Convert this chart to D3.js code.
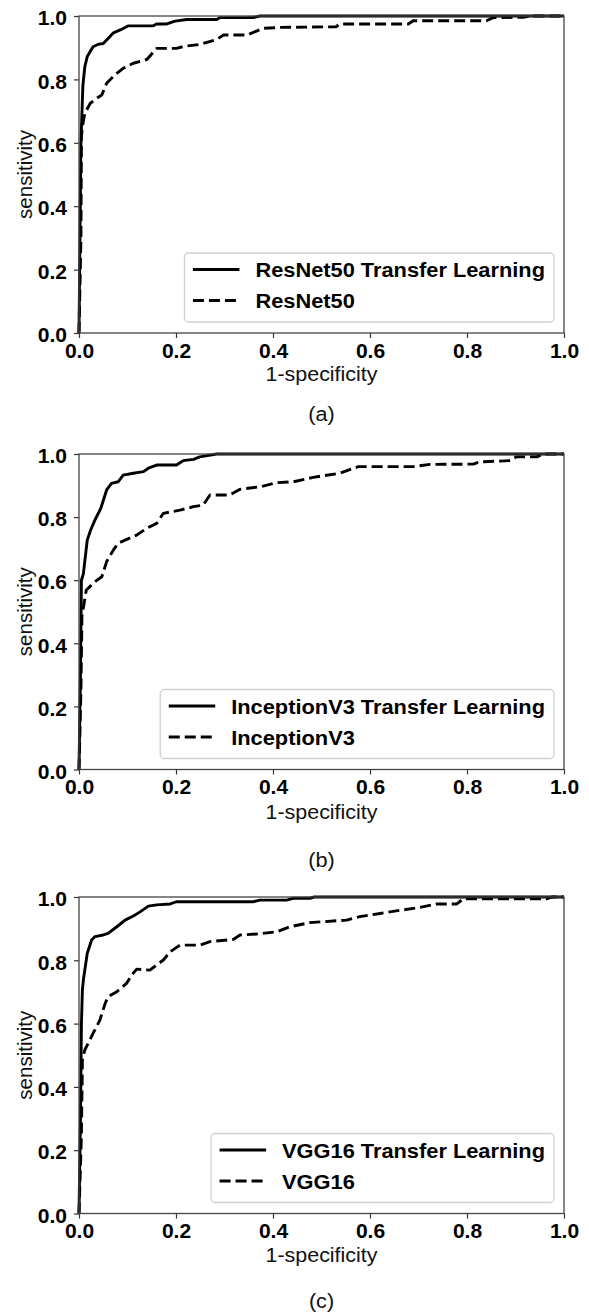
<!DOCTYPE html>
<html>
<head>
<meta charset="utf-8">
<script src="https://cdn.jsdelivr.net/npm/d3@7/dist/d3.min.js"></script>
<style>
  html, body { margin: 0; padding: 0; background: #fff; }
  svg { display: block; font-family: "Liberation Sans", Arial, Helvetica, sans-serif; }
</style>
</head>
<body>
<svg id="chart" width="589" height="1315"></svg>
<script>
// ---------- data ----------
const xTicks = [0.0, 0.2, 0.4, 0.6, 0.8, 1.0];
const yTicks = [0.0, 0.2, 0.4, 0.6, 0.8, 1.0];
const xLabel = "1-specificity";
const yLabel = "sensitivity";
const panelLabels = ["(a)", "(b)", "(c)"];
const legendNames = [
  ["ResNet50 Transfer Learning", "ResNet50"],
  ["InceptionV3 Transfer Learning", "InceptionV3"],
  ["VGG16 Transfer Learning", "VGG16"]
];

const resnetTL_fpr = [0,0.002,0.004,0.008,0.012,0.017,0.029,0.04,0.05,0.058,0.071,0.085,0.102,0.153,0.16,0.181,0.198,0.222,0.284,0.291,0.359,0.373,1.0];
const resnetTL_tpr = [0,0.3,0.6,0.78,0.84,0.872,0.903,0.911,0.913,0.926,0.947,0.956,0.969,0.969,0.975,0.975,0.984,0.989,0.989,0.995,0.995,1.0,1.0];

const resnet_fpr = [0,0.004,0.005,0.007,0.012,0.023,0.036,0.047,0.057,0.074,0.091,0.112,0.14,0.16,0.201,0.219,0.249,0.284,0.298,0.346,0.38,0.414,0.53,0.538,0.679,0.689,0.84,0.854,0.916,0.93,1.0];
const resnet_tpr = [0,0.3,0.62,0.651,0.693,0.724,0.74,0.751,0.788,0.814,0.835,0.851,0.863,0.898,0.898,0.905,0.91,0.926,0.94,0.94,0.961,0.964,0.966,0.975,0.975,0.985,0.985,0.995,0.996,1.0,1.0];

const inceptionTL_fpr = [0,0.003,0.005,0.009,0.017,0.024,0.033,0.045,0.057,0.067,0.081,0.091,0.112,0.133,0.143,0.16,0.201,0.215,0.236,0.249,0.284,1.0];
const inceptionTL_tpr = [0,0.3,0.6,0.62,0.727,0.759,0.791,0.828,0.886,0.907,0.912,0.933,0.939,0.944,0.955,0.965,0.965,0.979,0.983,0.991,1.0,1.0];

const inception_fpr = [0,0.004,0.006,0.015,0.033,0.047,0.057,0.071,0.081,0.095,0.119,0.14,0.16,0.174,0.208,0.236,0.256,0.27,0.311,0.332,0.373,0.408,0.442,0.483,0.538,0.576,0.689,0.724,0.813,0.827,0.889,0.902,0.944,0.957,1.0];
const inception_tpr = [0,0.25,0.484,0.569,0.595,0.611,0.659,0.696,0.717,0.727,0.743,0.765,0.78,0.812,0.822,0.833,0.838,0.87,0.87,0.888,0.896,0.909,0.912,0.926,0.939,0.96,0.96,0.967,0.968,0.975,0.979,0.991,0.991,1.0,1.0];

const vggTL_fpr = [0,0.003,0.005,0.007,0.009,0.017,0.026,0.033,0.05,0.06,0.078,0.095,0.112,0.126,0.143,0.16,0.188,0.201,0.359,0.373,0.428,0.442,0.476,0.485,1.0];
const vggTL_tpr = [0,0.3,0.6,0.706,0.738,0.822,0.864,0.875,0.88,0.885,0.906,0.927,0.94,0.953,0.971,0.975,0.978,0.985,0.985,0.99,0.99,0.996,0.996,1.0,1.0];

const vgg_fpr = [0,0.005,0.007,0.012,0.029,0.043,0.054,0.06,0.078,0.098,0.109,0.119,0.146,0.174,0.188,0.208,0.249,0.27,0.318,0.332,0.366,0.408,0.435,0.476,0.552,0.579,0.621,0.662,0.703,0.738,0.779,0.792,0.964,0.975,1.0];
const vgg_tpr = [0,0.25,0.485,0.517,0.569,0.611,0.664,0.685,0.701,0.727,0.754,0.772,0.769,0.801,0.827,0.848,0.848,0.859,0.866,0.88,0.883,0.89,0.906,0.919,0.927,0.938,0.948,0.958,0.967,0.978,0.978,0.994,0.994,1.0,1.0];

const panelSeries = [
  [[resnetTL_fpr, resnetTL_tpr], [resnet_fpr, resnet_tpr]],
  [[inceptionTL_fpr, inceptionTL_tpr], [inception_fpr, inception_tpr]],
  [[vggTL_fpr, vggTL_tpr], [vgg_fpr, vgg_tpr]]
];

// ---------- layout ----------
const X0 = 79, X1 = 564;
const panels = [
  { top: 16,  bottom: 333,    xlab: 381,  plab: 421 },
  { top: 454, bottom: 769.5,  xlab: 819,  plab: 867 },
  { top: 897, bottom: 1213.5, xlab: 1262, plab: 1308 }
];
const STRETCH = 1.08;
const svg = d3.select("#chart");

function stretch(sel, k) {
  sel.each(function () {
    const L = this.getComputedTextLength();
    d3.select(this).attr("textLength", L * k).attr("lengthAdjust", "spacingAndGlyphs");
  });
}

const x = d3.scaleLinear().domain([0, 1]).range([X0, X1]);

panels.forEach((p, i) => {
  const y = d3.scaleLinear().domain([0, 1]).range([p.bottom, p.top]);
  const g = svg.append("g");

  // axes
  const ax = g.append("g").attr("transform", `translate(0,${p.bottom})`)
    .call(d3.axisBottom(x).tickValues(xTicks).tickFormat(d3.format(".1f")).tickSize(5).tickSizeOuter(0).tickPadding(6));
  const ay = g.append("g").attr("transform", `translate(${X0},0)`)
    .call(d3.axisLeft(y).tickValues(yTicks).tickFormat(d3.format(".1f")).tickSize(5).tickSizeOuter(0).tickPadding(7));
  [ax, ay].forEach(a => {
    a.select(".domain").remove();
    a.selectAll(".tick line").attr("stroke", "#333").attr("stroke-width", 1.2);
    a.selectAll(".tick text").attr("fill", "#000").attr("font-size", 19.5).attr("font-weight", "bold")
      .attr("font-family", "'Liberation Sans', Arial, sans-serif");
  });
  ay.selectAll(".tick text").attr("dy", "0.45em");
  stretch(ax.selectAll(".tick text"), STRETCH);
  stretch(ay.selectAll(".tick text"), STRETCH);

  // curves
  const line = d3.line().x(d => x(d[0])).y(d => y(d[1]));
  panelSeries[i].forEach((s, j) => {
    const pts = s[0].map((v, k) => [v, s[1][k]]);
    g.append("path").datum(pts).attr("d", line)
      .attr("fill", "none").attr("stroke", "#000").attr("stroke-width", 2.9)
      .attr("stroke-linejoin", "round")
      .attr("stroke-dasharray", j === 1 ? "11,5" : null);
  });

  // frame (spines)
  g.append("rect").attr("x", X0).attr("y", p.top).attr("width", X1 - X0).attr("height", p.bottom - p.top)
    .attr("fill", "none").attr("stroke", "#444").attr("stroke-width", 1.3);

  // axis labels
  const xl = g.append("text").attr("x", (X0 + X1) / 2).attr("y", p.xlab).attr("text-anchor", "middle")
    .attr("font-size", 19.5).attr("fill", "#111").text(xLabel);
  stretch(xl, 1.1);
  g.append("text").attr("transform", `translate(32,${(p.top + p.bottom) / 2}) rotate(-90)`)
    .attr("text-anchor", "middle").attr("font-size", 20.5).attr("fill", "#111").text(yLabel);

  const pl = g.append("text").attr("x", (X0 + X1) / 2).attr("y", p.plab).attr("text-anchor", "middle")
    .attr("font-size", 20).attr("fill", "#111").text(panelLabels[i]);
  stretch(pl, 1.08);

  // legend
  const lg = g.append("g");
  const boxTop = p.bottom - 80, boxBot = p.bottom - 11, boxRight = 554;
  const rect = lg.append("rect").attr("y", boxTop).attr("height", boxBot - boxTop)
    .attr("rx", 4).attr("fill", "#fff").attr("fill-opacity", 0.85)
    .attr("stroke", "#d0d0d0").attr("stroke-width", 1.3);
  const texts = legendNames[i].map((name, j) => lg.append("text")
    .attr("y", boxTop + 16.5 + 31 * j + 7.5).attr("font-size", 20).attr("font-weight", "bold")
    .attr("fill", "#000").text(name));
  texts.forEach(t => stretch(t, 1.09));
  const maxW = d3.max(texts, t => +t.attr("textLength"));
  const boxLeft = boxRight - 9 - maxW - 71;
  rect.attr("x", boxLeft).attr("width", boxRight - boxLeft);
  texts.forEach(t => t.attr("x", boxLeft + 71));
  [0, 1].forEach(j => {
    const ly = boxTop + 16.5 + 31 * j;
    lg.append("line").attr("x1", boxLeft + 8.5).attr("x2", boxLeft + 55).attr("y1", ly).attr("y2", ly)
      .attr("stroke", "#000").attr("stroke-width", 2.9)
      .attr("stroke-dasharray", j === 1 ? "11,5" : null);
  });
});
</script>
</body>
</html>
